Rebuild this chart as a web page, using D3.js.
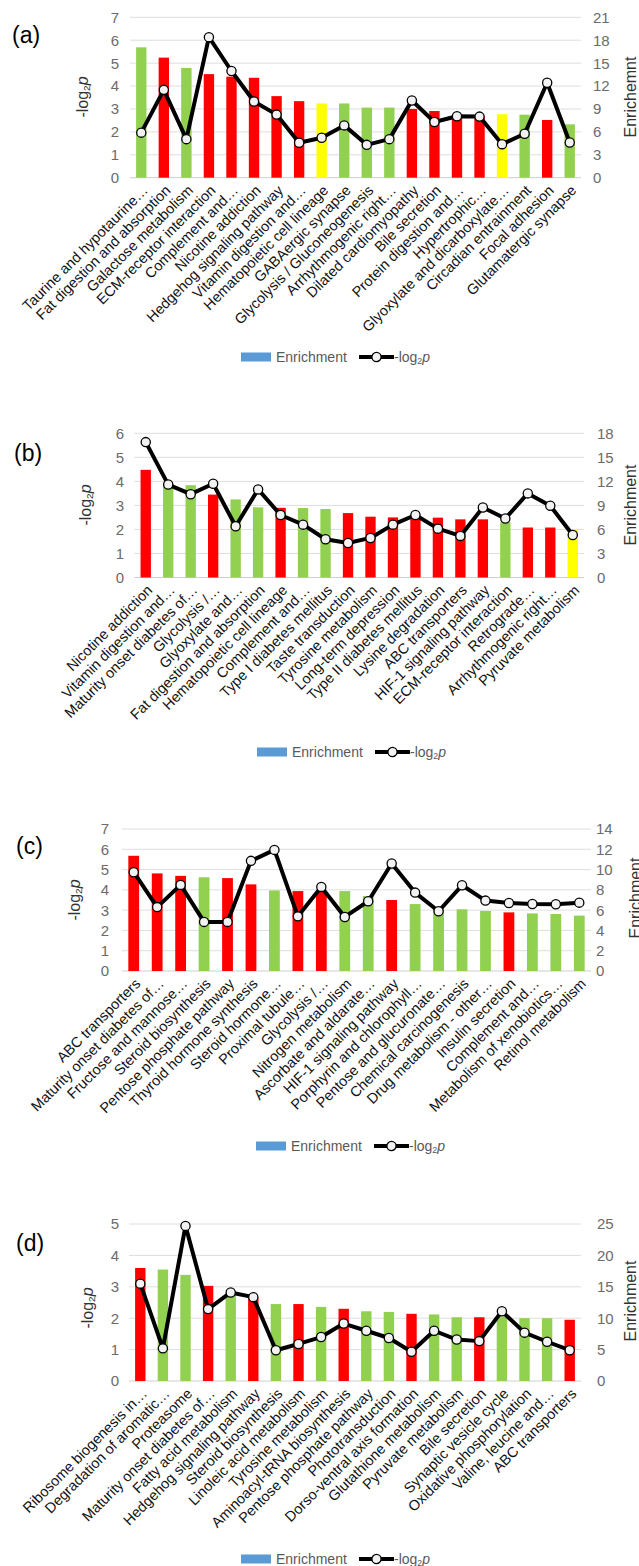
<!DOCTYPE html>
<html><head><meta charset="utf-8">
<script src="https://cdn.jsdelivr.net/npm/d3@7"></script>
<style>
body{margin:0;background:#fff}
svg{display:block}
text{font-family:"Liberation Sans",Arial,sans-serif}
</style>
</head><body>
<svg id="chart" width="639" height="1566"></svg>
<script>
// ---------- DATA ----------
const aCategories = ["Taurine and hypotaurine…","Fat digestion and absorption","Galactose metabolism","ECM-receptor interaction","Complement and…","Nicotine addiction","Hedgehog signaling pathway","Vitamin digestion and…","Hematopoietic cell lineage","GABAergic synapse","Glycolysis / Gluconeogenesis","Arrhythmogenic right…","Dilated cardiomyopathy","Bile secretion","Protein digestion and…","Hypertrophic…","Glyoxylate and dicarboxylate…","Circadian entrainment","Focal adhesion","Glutamatergic synapse"];
const aBars = [5.69,5.24,4.79,4.52,4.41,4.36,3.56,3.34,3.24,3.24,3.06,3.06,3.0,2.91,2.72,2.7,2.77,2.75,2.52,2.33];
const aLine = [5.9,11.5,5.05,18.4,13.97,9.97,8.26,4.57,5.23,6.85,4.3,5.05,10.1,7.3,8.04,8.0,4.39,5.75,12.43,4.6];
const aGroups = ["g","r","g","r","r","r","r","r","y","g","g","g","r","r","r","r","y","g","r","g"];
const aLeftTicks = [0,1,2,3,4,5,6,7];
const aRightTicks = [0,3,6,9,12,15,18,21];

const bCategories = ["Nicotine addiction","Vitamin digestion and…","Maturity onset diabetes of…","Glycolysis /…","Glyoxylate and…","Fat digestion and absorption","Hematopoietic cell lineage","Complement and…","Type I diabetes mellitus","Taste transduction","Tyrosine metabolism","Long-term depression","Type II diabetes mellitus","Lysine degradation","ABC transporters","HIF-1 signaling pathway","ECM-receptor interaction","Retrograde…","Arrhythmogenic right…","Pyruvate metabolism"];
const bBars = [4.48,3.9,3.84,3.45,3.25,2.92,2.9,2.89,2.85,2.68,2.53,2.5,2.5,2.49,2.42,2.42,2.3,2.08,2.08,2.0];
const bLine = [16.9,11.6,10.4,11.7,6.4,11.0,7.8,6.6,4.77,4.3,4.94,6.6,7.8,6.1,5.19,8.74,7.36,10.5,8.95,5.3];
const bGroups = ["r","g","g","r","g","g","r","g","g","r","r","r","r","r","r","r","g","r","r","y"];
const bLeftTicks = [0,1,2,3,4,5,6];
const bRightTicks = [0,3,6,9,12,15,18];

const cCategories = ["ABC transporters","Maturity onset diabetes of…","Fructose and mannose…","Steroid biosynthesis","Pentose phosphate pathway","Thyroid hormone synthesis","Steroid hormone…","Proximal tubule…","Glycolysis /…","Nitrogen metabolism","Ascorbate and aldarate…","HIF-1 signaling pathway","Porphyrin and chlorophyll…","Pentose and glucuronate…","Chemical carcinogenesis","Drug metabolism - other…","Insulin secretion","Complement and…","Metabolism of xenobiotics…","Retinol metabolism"];
const cBars = [5.68,4.81,4.69,4.62,4.58,4.27,3.97,3.94,3.9,3.94,3.7,3.5,3.3,3.1,3.04,2.96,2.89,2.84,2.81,2.73];
const cLine = [9.74,6.3,8.49,4.84,4.84,10.86,11.94,5.39,8.29,5.33,6.88,10.6,7.73,5.89,8.45,6.94,6.71,6.61,6.58,6.74];
const cGroups = ["r","r","r","g","r","r","g","r","r","g","g","r","g","g","g","g","r","g","g","g"];
const cLeftTicks = [0,1,2,3,4,5,6,7];
const cRightTicks = [0,2,4,6,8,10,12,14];

const dCategories = ["Ribosome biogenesis in…","Degradation of aromatic…","Proteasome","Maturity onset diabetes of…","Fatty acid metabolism","Hedgehog signaling pathway","Steroid biosynthesis","Linoleic acid metabolism","Tyrosine metabolism","Aminoacyl-tRNA biosynthesis","Pentose phosphate pathway","Phototransduction","Dorso-ventral axis formation","Glutathione metabolism","Pyruvate metabolism","Bile secretion","Synaptic vesicle cycle","Oxidative phosphorylation","Valine, leucine and…","ABC transporters"];
const dBars = [3.6,3.55,3.38,3.03,2.78,2.65,2.45,2.45,2.36,2.3,2.22,2.2,2.14,2.12,2.03,2.03,2.05,2.0,2.0,1.95];
const dLine = [15.5,5.2,24.7,11.45,14.1,13.35,4.9,5.9,7.0,9.15,8.0,6.85,4.65,8.0,6.6,6.35,11.1,7.7,6.25,4.9];
const dGroups = ["r","g","g","r","g","r","g","r","g","r","g","g","r","g","g","r","g","g","g","r"];
const dLeftTicks = [0,1,2,3,4,5];
const dRightTicks = [0,5,10,15,20,25];

const panelLabels = ["(a)","(b)","(c)","(d)"];
const rightTitles = ["Enrichemnt","Enrichment","Enrichment","Enrichment"];
const legendBarText = "Enrichment";

// ---------- STYLE / LAYOUT ----------
const groupColor = {g:"#92d050", r:"#ff0000", y:"#ffff00"};
const layouts = [
  {x0:130, x1:581, yT:17.3, yB:177.7, lx:119, rx:593, ltx:82, lty:97, rtx:630, rty:97, px:12, py:35, legX:241, legY:357},
  {x0:134.5, x1:584, yT:433.3, yB:577.5, lx:124, rx:597, ltx:85, lty:505, rtx:630, rty:505, px:14, py:453, legX:257, legY:752},
  {x0:122, x1:591, yT:829, yB:971, lx:109, rx:596, ltx:74, lty:900, rtx:635, rty:898, px:16, py:846, legX:256, legY:1146},
  {x0:129, x1:581, yT:1224, yB:1381, lx:119, rx:597, ltx:87, lty:1308, rtx:630, rty:1301, px:16, py:1243, legX:241, legY:1559}
];
const panels = [
  {cats:aCategories, bars:aBars, line:aLine, groups:aGroups, lt:aLeftTicks, rt:aRightTicks},
  {cats:bCategories, bars:bBars, line:bLine, groups:bGroups, lt:bLeftTicks, rt:bRightTicks},
  {cats:cCategories, bars:cBars, line:cLine, groups:cGroups, lt:cLeftTicks, rt:cRightTicks},
  {cats:dCategories, bars:dBars, line:dLine, groups:dGroups, lt:dLeftTicks, rt:dRightTicks}
];

const svg = d3.select("#chart");
const tickColor = "#6b6b6b";

function logTitle(sel, size, color){
  sel.append("tspan").text("-log").attr("fill",color);
  sel.append("tspan").text("2").attr("font-size", size*0.62).attr("baseline-shift","-22%").attr("fill",color);
  sel.append("tspan").text("p").attr("font-style","italic").attr("fill",color);
}

panels.forEach((p,i)=>{
  const L = layouts[i];
  const g = svg.append("g");
  const x = d3.scaleBand().domain(p.cats).range([L.x0,L.x1]).paddingInner(0.54).paddingOuter(0.27);
  const yL = d3.scaleLinear().domain([0, d3.max(p.lt)]).range([L.yB, L.yT]);
  const yR = d3.scaleLinear().domain([0, d3.max(p.rt)]).range([L.yB, L.yT]);

  // gridlines
  g.append("g").selectAll("line").data(p.lt).join("line")
    .attr("x1",L.x0).attr("x2",L.x1).attr("y1",d=>yL(d)).attr("y2",d=>yL(d))
    .attr("stroke",d=>d===0?"#cfcfcf":"#dedede").attr("stroke-width",1);

  // left axis tick labels
  g.append("g").selectAll("text").data(p.lt).join("text")
    .attr("x",L.lx).attr("y",d=>yL(d)).attr("dy","0.36em").attr("text-anchor","end")
    .attr("font-size",15).attr("fill",tickColor).text(d=>d);
  // right axis tick labels
  g.append("g").selectAll("text").data(p.rt).join("text")
    .attr("x",L.rx).attr("y",d=>yR(d)).attr("dy","0.36em").attr("text-anchor","start")
    .attr("font-size",15).attr("fill",tickColor).text(d=>d);

  // bars
  g.append("g").selectAll("rect").data(p.bars).join("rect")
    .attr("x",(d,j)=>x(p.cats[j])).attr("width",x.bandwidth())
    .attr("y",d=>yL(d)).attr("height",d=>L.yB-yL(d))
    .attr("fill",(d,j)=>groupColor[p.groups[j]]);

  // line
  const pts = p.line.map((v,j)=>[x(p.cats[j])+x.bandwidth()/2, yR(v)]);
  g.append("path").attr("d", d3.line()(pts)).attr("fill","none")
    .attr("stroke","#000").attr("stroke-width",4).attr("stroke-linejoin","round");
  g.append("g").selectAll("circle").data(pts).join("circle")
    .attr("cx",d=>d[0]).attr("cy",d=>d[1]).attr("r",4.6)
    .attr("fill","#f2f2f2").attr("stroke","#000").attr("stroke-width",1.3);

  // category labels
  g.append("g").selectAll("text").data(p.cats).join("text")
    .attr("transform",d=>`translate(${x(d)+x.bandwidth()/2+4},${L.yB+10}) rotate(-45)`)
    .attr("text-anchor","end").attr("dy","0.35em")
    .attr("font-size",14.5).attr("fill","#111").text(d=>d);

  // axis titles
  const lt = g.append("text").attr("transform",`translate(${L.ltx},${L.lty}) rotate(-90)`)
    .attr("text-anchor","middle").attr("dy","0.35em").attr("font-size",16);
  logTitle(lt, 16, "#333");
  g.append("text").attr("transform",`translate(${L.rtx},${L.rty}) rotate(-90)`)
    .attr("text-anchor","middle").attr("dy","0.35em").attr("font-size",16).attr("fill","#333")
    .text(rightTitles[i]);

  // panel label
  g.append("text").attr("x",L.px).attr("y",L.py).attr("dy","0.36em")
    .attr("font-size",23).attr("fill","#000").text(panelLabels[i]);

  // legend
  const lg = g.append("g").attr("transform",`translate(${L.legX},${L.legY})`);
  lg.append("rect").attr("x",0).attr("y",-4.5).attr("width",30).attr("height",9).attr("fill","#5b9bd5");
  lg.append("text").attr("x",35).attr("y",0).attr("dy","0.36em").attr("font-size",14).attr("fill","#595959").text(legendBarText);
  lg.append("line").attr("x1",118).attr("x2",153).attr("y1",0).attr("y2",0).attr("stroke","#000").attr("stroke-width",4);
  lg.append("circle").attr("cx",135.5).attr("cy",0).attr("r",4.6).attr("fill","#f2f2f2").attr("stroke","#000").attr("stroke-width",1.3);
  const lt2 = lg.append("text").attr("x",153).attr("y",0).attr("dy","0.36em").attr("font-size",14);
  logTitle(lt2, 14, "#595959");
});
</script>
</body></html>
